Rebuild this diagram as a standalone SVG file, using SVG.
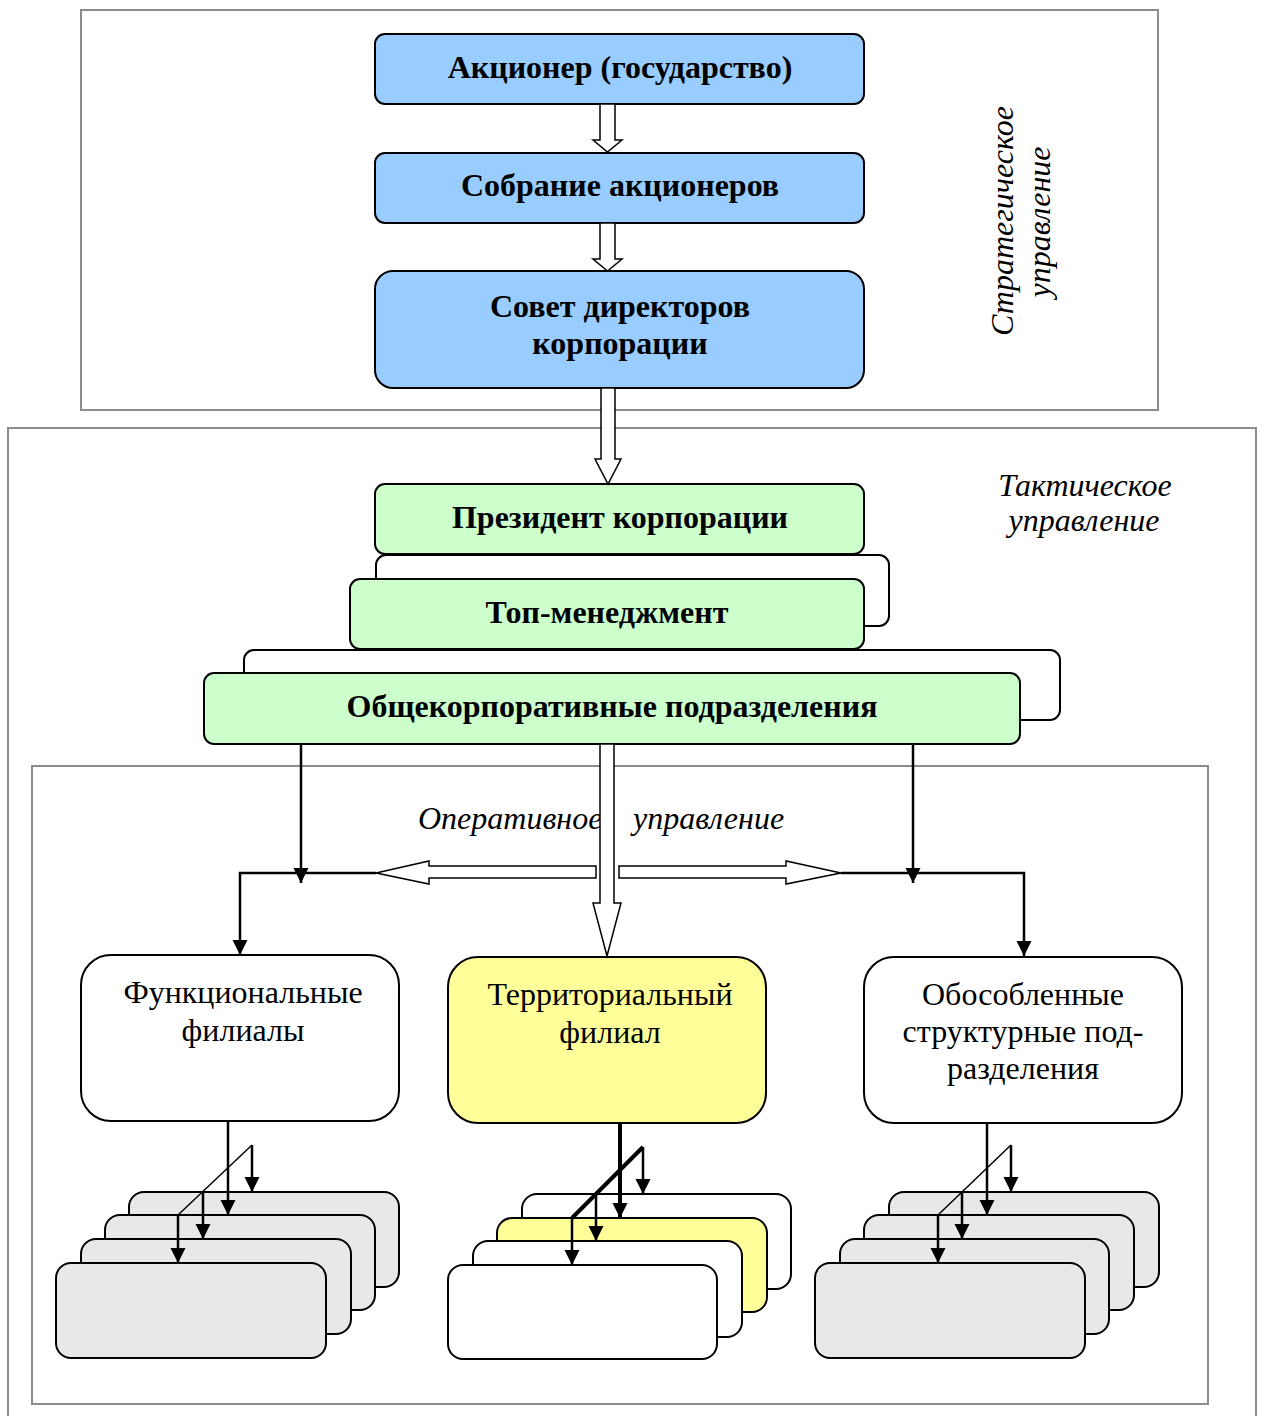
<svg xmlns="http://www.w3.org/2000/svg" width="1265" height="1416" viewBox="0 0 1265 1416">
<defs>
<style>
.frame{fill:none;stroke:#8c8c8c;stroke-width:2}
.blue{fill:#99CCFF;stroke:#000;stroke-width:2}
.green{fill:#CCFFCC;stroke:#000;stroke-width:2}
.white{fill:#fff;stroke:#000;stroke-width:2}
.yellow{fill:#FFFF99;stroke:#000;stroke-width:2}
.gray{fill:#E8E8E8;stroke:#000;stroke-width:2}
.hollow{fill:#fff;stroke:#000;stroke-width:1.5}
.ln{fill:none;stroke:#000;stroke-width:2.5}
.lnb{fill:none;stroke:#000;stroke-width:4}
.bt{font-family:"Liberation Serif","Times New Roman",serif;font-weight:bold;font-size:32px;text-anchor:middle;fill:#000}
.rt{font-family:"Liberation Serif","Times New Roman",serif;font-size:32px;text-anchor:middle;fill:#000}
.it{font-family:"Liberation Serif","Times New Roman",serif;font-style:italic;font-size:32px;fill:#000}
</style>
<marker id="ah" markerUnits="userSpaceOnUse" markerWidth="16" markerHeight="16" refX="15" refY="7.5" orient="auto">
<path d="M0,0 L15,7.5 L0,15 z" fill="#000"/>
</marker>
</defs>

<g id="frames">
<rect class="frame" x="81" y="10" width="1077" height="400"/>
<rect class="frame" x="8" y="428" width="1248" height="996"/>
<rect class="frame" x="32" y="766" width="1176" height="638"/>
</g>

<g id="labels">
<text class="it" text-anchor="middle" transform="translate(1013,221) rotate(-90)">Стратегическое</text>
<text class="it" text-anchor="middle" transform="translate(1050,222) rotate(-90)">управление</text>
<text class="it" x="1085" y="496" text-anchor="middle">Тактическое</text>
<text class="it" x="1084" y="531" text-anchor="middle">управление</text>
<text class="it" x="418" y="829">Оперативное</text>
<text class="it" x="633" y="829">управление</text>
</g>

<g id="node-akcioner">
<rect class="blue" x="375" y="34" width="489" height="70" rx="10"/>
<text class="bt" x="620" y="78">Акционер (государство)</text>
</g>
<g id="node-sobranie">
<rect class="blue" x="375" y="153" width="489" height="70" rx="10"/>
<text class="bt" x="620" y="196">Собрание акционеров</text>
</g>
<g id="node-sovet">
<rect class="blue" x="375" y="271" width="489" height="117" rx="18"/>
<text class="bt" x="620" y="317">Совет директоров</text>
<text class="bt" x="620" y="354">корпорации</text>
</g>

<g id="node-president">
<rect class="green" x="375" y="484" width="489" height="70" rx="10"/>
<text class="bt" x="620" y="528">Президент корпорации</text>
</g>
<g id="node-top">
<rect class="white" x="376" y="555" width="513" height="71" rx="10"/>
<rect class="green" x="350" y="579" width="514" height="70" rx="10"/>
<text class="bt" x="607" y="623">Топ-менеджмент</text>
</g>
<g id="node-obshchekorp">
<rect class="white" x="244" y="650" width="816" height="70" rx="10"/>
<rect class="green" x="204" y="673" width="816" height="71" rx="10"/>
<text class="bt" x="612" y="717">Общекорпоративные подразделения</text>
</g>

<g id="node-funkc">
<rect class="white" x="81" y="955" width="318" height="166" rx="30"/>
<text class="rt" x="243" y="1003">Функциональные</text>
<text class="rt" x="243" y="1041">филиалы</text>
</g>
<g id="node-territ">
<rect class="yellow" x="448" y="957" width="318" height="166" rx="30"/>
<text class="rt" x="610" y="1005">Территориальный</text>
<text class="rt" x="610" y="1043">филиал</text>
</g>
<g id="node-obosob">
<rect class="white" x="864" y="957" width="318" height="166" rx="30"/>
<text class="rt" x="1023" y="1005">Обособленные</text>
<text class="rt" x="1023" y="1042">структурные под-</text>
<text class="rt" x="1023" y="1079">разделения</text>
</g>

<g id="stack-left">
<rect class="gray" x="129" y="1192" width="270" height="95" rx="15"/>
<rect class="gray" x="105" y="1215" width="270" height="95" rx="15"/>
<rect class="gray" x="81" y="1239" width="270" height="95" rx="15"/>
<rect class="gray" x="56" y="1263" width="270" height="95" rx="15"/>
</g>
<g id="stack-middle">
<rect class="white" x="522" y="1194" width="269" height="95" rx="15"/>
<rect class="yellow" x="497" y="1218" width="270" height="94" rx="15"/>
<rect class="white" x="473" y="1241" width="269" height="96" rx="15"/>
<rect class="white" x="448" y="1265" width="269" height="94" rx="15"/>
</g>
<g id="stack-right">
<rect class="gray" x="889" y="1192" width="270" height="95" rx="15"/>
<rect class="gray" x="864" y="1215" width="270" height="95" rx="15"/>
<rect class="gray" x="840" y="1239" width="269" height="95" rx="15"/>
<rect class="gray" x="815" y="1263" width="270" height="95" rx="15"/>
</g>

<g id="connectors">
<polygon class="hollow" points="600,104 615,104 615,140 622,140 607.5,152 593,140 600,140"/>
<polygon class="hollow" points="600,223 615,223 615,259 622,259 607.5,271 593,259 600,259"/>
<polygon class="hollow" points="601,388 615,388 615,459 621,459 608,484 595,459 601,459"/>
<polygon class="hollow" points="600,744 614,744 614,903 621,903 607,956 593,903 600,903"/>
<polygon class="hollow" points="596,866 596,878 429,878 429,884 376,873 429,861 429,866"/>
<polygon class="hollow" points="619,866 619,878 786,878 786,884 841,873 786,861 786,866"/>
<line class="ln" x1="301" y1="744" x2="301" y2="883" marker-end="url(#ah)"/>
<polyline class="ln" points="376,873 240,873 240,955" marker-end="url(#ah)"/>
<line class="ln" x1="913" y1="744" x2="913" y2="883" marker-end="url(#ah)"/>
<polyline class="ln" points="841,873 1024,873 1024,956" marker-end="url(#ah)"/>
<line class="ln" x1="228" y1="1121" x2="228" y2="1215" marker-end="url(#ah)"/>
<line x1="252" y1="1145" x2="178" y2="1215" stroke="#000" stroke-width="1.5"/>
<line class="ln" x1="252" y1="1145" x2="252" y2="1192" marker-end="url(#ah)"/>
<line class="ln" x1="203" y1="1192" x2="203" y2="1239" marker-end="url(#ah)"/>
<line class="ln" x1="178" y1="1215" x2="178" y2="1263" marker-end="url(#ah)"/>
<line class="lnb" x1="620" y1="1123" x2="620" y2="1218" marker-end="url(#ah)"/>
<line class="lnb" x1="643" y1="1147" x2="572" y2="1218"/>
<line class="ln" x1="643" y1="1147" x2="643" y2="1194" marker-end="url(#ah)"/>
<line class="ln" x1="596" y1="1194" x2="596" y2="1241" marker-end="url(#ah)"/>
<line class="ln" x1="572" y1="1217" x2="572" y2="1265" marker-end="url(#ah)"/>
<line class="ln" x1="987" y1="1123" x2="987" y2="1215" marker-end="url(#ah)"/>
<line x1="1011" y1="1145" x2="938" y2="1215" stroke="#000" stroke-width="1.5"/>
<line class="ln" x1="1011" y1="1145" x2="1011" y2="1192" marker-end="url(#ah)"/>
<line class="ln" x1="962" y1="1192" x2="962" y2="1239" marker-end="url(#ah)"/>
<line class="ln" x1="938" y1="1215" x2="938" y2="1263" marker-end="url(#ah)"/>
</g>
</svg>
